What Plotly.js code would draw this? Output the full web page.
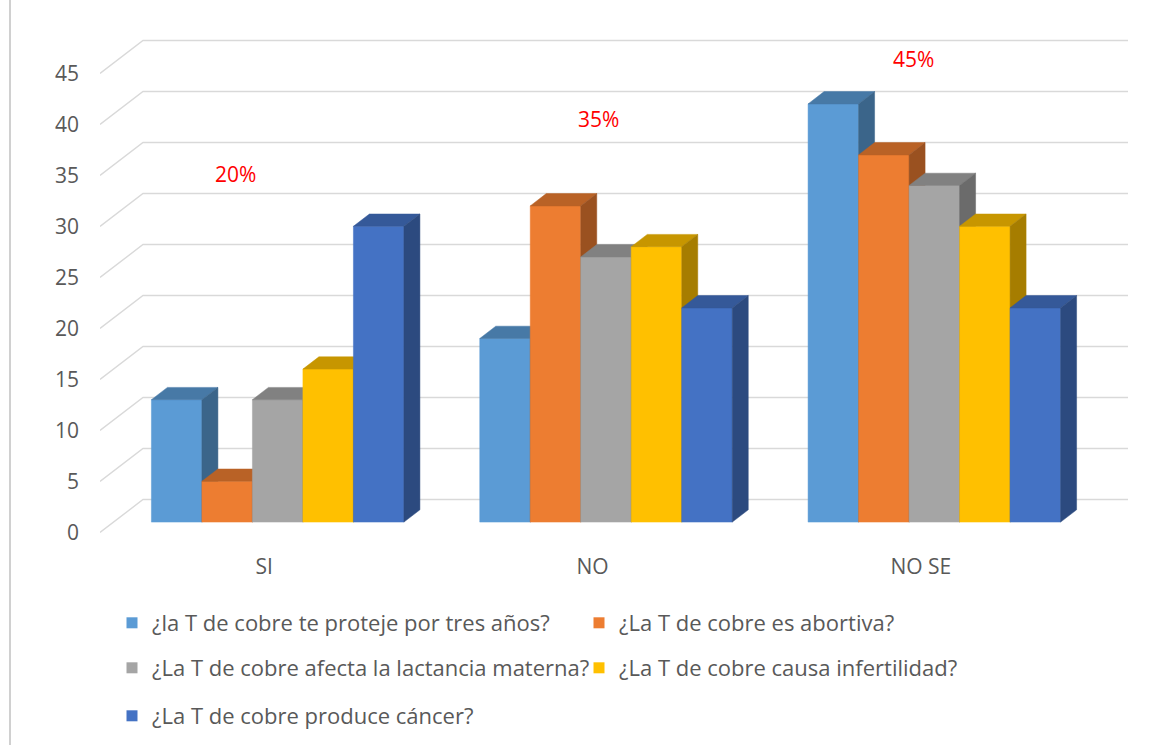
<!DOCTYPE html>
<html><head><meta charset="utf-8">
<script src="https://cdn.plot.ly/plotly-3.0.1.min.js"></script>
<style>html,body{margin:0;padding:0;background:#fff}</style>
</head><body><div id="chart" style="width:1161px;height:745px"></div>
<script>
// ---------- data ----------
const categories = ['SI', 'NO', 'NO SE'];
const seriesNames = [
  '¿la T de cobre te proteje por tres años?',
  '¿La T de cobre es abortiva?',
  '¿La T de cobre afecta la lactancia materna?',
  '¿La T de cobre causa infertilidad?',
  '¿La T de cobre produce cáncer?'
];
const protejeValues = [12, 18, 41];
const abortivaValues = [4, 31, 36];
const lactanciaValues = [12, 26, 33];
const infertilidadValues = [15, 27, 29];
const cancerValues = [29, 21, 21];
const percentLabels = ['20%', '35%', '45%'];
const yTickValues = [0, 5, 10, 15, 20, 25, 30, 35, 40, 45];

// ---------- styles / geometry ----------
const seriesValues = [protejeValues, abortivaValues, lactanciaValues, infertilidadValues, cancerValues];
const frontColors = ['#5b9bd5', '#ed7d31', '#a5a5a5', '#ffc000', '#4472c4'];
function shade(hex, f) {
  const n = parseInt(hex.slice(1), 16);
  const r = Math.round(((n >> 16) & 255) * f), g = Math.round(((n >> 8) & 255) * f), b = Math.round((n & 255) * f);
  return 'rgb(' + r + ',' + g + ',' + b + ')';
}
const W = 1161, H = 745, ML = 100, MR = 33, MT = 20, MB = 200;
const plotW = W - ML - MR, plotH = H - MT - MB;
const K = 10.2;            // px per unit
const YF0 = 532.5;         // px of front-edge zero
const BACK_DX = 43, BACK_DY = 33 / K;
const floorW = plotW - BACK_DX;
const cw = floorW / categories.length;
const catCenters = categories.map((c, i) => cw * (i + 0.5));
const BAR_DXF = 13.5, BAR_DYF = 10.4 / K;
const DEPTH_DX = 16, DEPTH_DY = 12.3 / K;
const BW = 50.5;
const TEXT = '#595959';
const FONT = 'Open Sans, sans-serif';

const traces = [];

// gridlines (floor diagonal + back wall)
const gx = [], gy = [];
yTickValues.forEach(v => { gx.push(0, BACK_DX, plotW, null); gy.push(v, v + BACK_DY, v + BACK_DY, null); });
traces.push({x: gx, y: gy, mode: 'lines', line: {color: '#d9d9d9', width: 1.4}, hoverinfo: 'skip', showlegend: false});

// bars
seriesValues.forEach((vals, s) => {
  const fx = [], fy = [], tx = [], ty = [], sx = [], sy = [];
  vals.forEach((v, c) => {
    const L = catCenters[c] + BAR_DXF - 2.5 * BW + s * BW, R = L + BW;
    const a = BAR_DYF, top = v + BAR_DYF;
    fx.push(L, R, R, L, L, null); fy.push(a, a, top, top, a, null);
    tx.push(L, R, R + DEPTH_DX, L + DEPTH_DX, L, null); ty.push(top, top, top + DEPTH_DY, top + DEPTH_DY, top, null);
    sx.push(R, R, R + DEPTH_DX, R + DEPTH_DX, R, null); sy.push(a, top, top + DEPTH_DY, a + DEPTH_DY, a, null);
  });
  const fc = frontColors[s], tc = shade(fc, 0.78), sc = shade(fc, 0.65);
  traces.push({x: fx, y: fy, mode: 'lines', fill: 'toself', fillcolor: fc, line: {color: fc, width: 0.5}, name: seriesNames[s], showlegend: false, hoverinfo: 'skip'});
  traces.push({x: tx, y: ty, mode: 'lines', fill: 'toself', fillcolor: tc, line: {color: tc, width: 0.5}, showlegend: false, hoverinfo: 'skip'});
  traces.push({x: sx, y: sy, mode: 'lines', fill: 'toself', fillcolor: sc, line: {color: sc, width: 0.5}, showlegend: false, hoverinfo: 'skip'});
});

// legend entries
const legendPos = [[112, 623], [579, 623], [112, 668], [579, 668], [112, 716]];
const legendKeys = ['legend', 'legend2', 'legend3', 'legend4', 'legend5'];
seriesNames.forEach((n, s) => {
  traces.push({x: [null], y: [null], mode: 'markers', name: n, legend: legendKeys[s],
    marker: {symbol: 'square', size: 11, color: frontColors[s]}, showlegend: true});
});

const layout = {
  width: W, height: H,
  margin: {l: ML, r: MR, t: MT, b: MB, autoexpand: false},
  paper_bgcolor: '#fff', plot_bgcolor: '#fff',
  font: {family: FONT, color: TEXT, size: 21},
  showlegend: true,
  xaxis: {range: [0, plotW], tickvals: catCenters, ticktext: categories, showgrid: false, zeroline: false,
    showline: false, ticks: '', tickfont: {size: 21, color: TEXT, family: FONT}, ticklabelstandoff: 7, fixedrange: true},
  yaxis: {range: [(YF0 - (MT + plotH)) / K, (YF0 - MT) / K], tickvals: yTickValues, showgrid: false, zeroline: false,
    showline: false, ticks: '', tickfont: {size: 21, color: TEXT, family: FONT}, ticklabelstandoff: 20, fixedrange: true},
  annotations: percentLabels.map((t, i) => ({
    text: t, showarrow: false, xref: 'x', yref: 'y',
    x: [135, 498, 813][i], y: [35.15, 40.54, 46.42][i],
    font: {color: '#ff0000', size: 21, family: FONT}
  })),
  shapes: [{type: 'line', xref: 'paper', yref: 'paper', x0: (10 - ML) / plotW, x1: (10 - ML) / plotW,
    y0: (MT + plotH - H) / plotH, y1: (MT + plotH) / plotH, line: {color: '#d0d0d0', width: 2}}]
};
legendKeys.forEach((k, i) => {
  layout[k] = {x: (legendPos[i][0] - ML) / plotW, y: (MT + plotH - legendPos[i][1]) / plotH,
    xanchor: 'left', yanchor: 'middle', orientation: 'h', bgcolor: 'rgba(0,0,0,0)', borderwidth: 0,
    font: {family: FONT, size: 22, color: TEXT}};
});

Plotly.newPlot('chart', traces, layout, {displayModeBar: false, staticPlot: true});
</script>
</body></html>
